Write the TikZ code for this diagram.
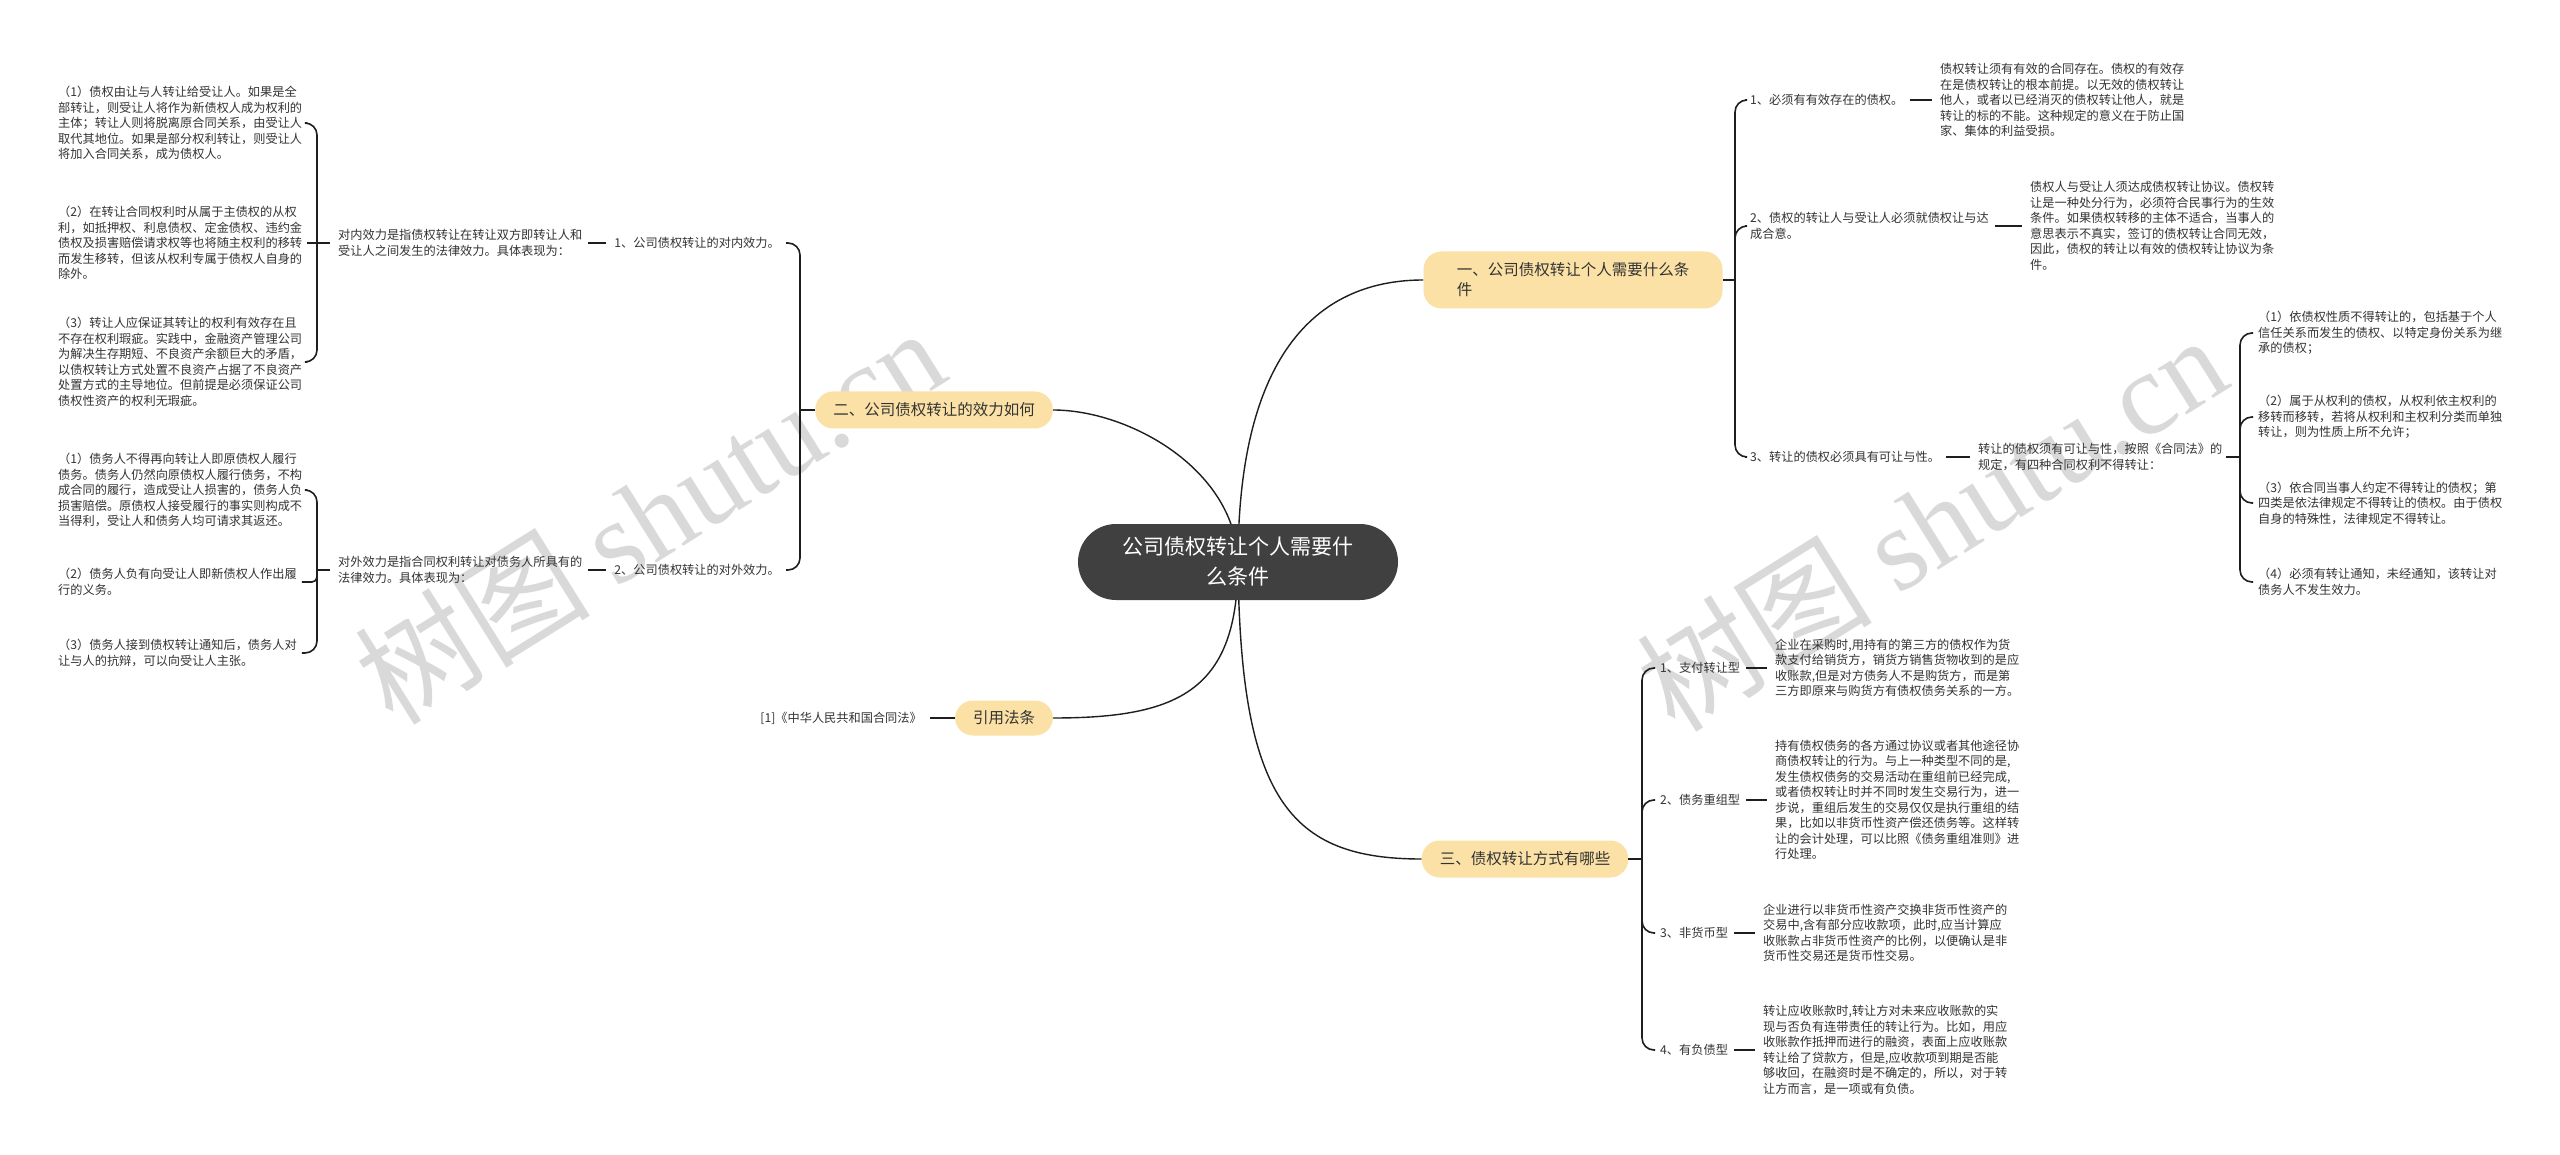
\documentclass[tikz,border=0pt]{standalone}
\usepackage{fontspec}
\setmainfont{Noto Sans CJK SC}
\newfontfamily\wmserif{Liberation Serif}
\definecolor{txtc}{HTML}{333333}
\definecolor{topicc}{HTML}{FBE1A6}
\definecolor{rootc}{HTML}{404040}
\definecolor{linec}{HTML}{1E1E1E}
\pgfdeclarelayer{lines}
\pgfsetlayers{lines,main}
\tikzset{
  txt/.style={font=\fontsize{12.2}{15.5}\selectfont, text=txtc, align=left, inner sep=0pt, anchor=west},
  txtr/.style={txt, anchor=east},
  topic/.style={fill=topicc, text=txtc, font=\fontsize{15.5}{20}\selectfont, rounded corners=18pt, inner xsep=18pt, inner ysep=0pt, minimum height=37pt, align=left},
  rootbox/.style={fill=rootc, text=white, font=\fontsize{21}{30}\selectfont, rounded corners=38pt, minimum width=320pt, minimum height=76pt, align=center, inner sep=0pt},
  link/.style={draw=linec, line width=1.6pt},
  curvelink/.style={draw=linec, line width=1.4pt},
  branch/.style={link, rounded corners=12pt},
  wmtext/.style={text=black!15, font=\fontsize{118}{118}\selectfont, rotate=32, inner sep=0pt}
}
\begin{document}
\begin{tikzpicture}[x=1pt,y=-1pt]
\useasboundingbox (0,0) rectangle (2560,1155);
\begin{pgfonlayer}{lines}
\fill[white] (0,0) rectangle (2560,1155);
\node[wmtext] (wmL) at (649,515) {树图 {\wmserif shutu.cn}};
\node[wmtext] (wmR) at (1931,522) {树图 {\wmserif shutu.cn}};
\end{pgfonlayer}

% root and main topics
\node[rootbox] (root) at (1238,562) {公司债权转让个人需要什\\么条件};
\node[topic, minimum width=299pt, minimum height=57pt] (n1) at (1573,280) {一、公司债权转让个人需要什么条\\件};
\node[topic] (n2) at (934,410) {二、公司债权转让的效力如何};
\node[topic] (n3) at (1525,859) {三、债权转让方式有哪些};
\node[topic, minimum height=35pt] (n4) at (1004,718) {引用法条};

% citation
\node[txtr] (cite) at (922,718) {[1]《中华人民共和国合同法》};

% ---------- branch 二 (left) ----------
\coordinate (J2) at (800,410);
\node[txtr] (l1) at (780,243) {1、公司债权转让的对内效力。};
\node[txtr] (l2) at (780,570) {2、公司债权转让的对外效力。};
\node[txt] (lin) at (338,243) {对内效力是指债权转让在转让双方即转让人和\\受让人之间发生的法律效力。具体表现为：};
\node[txt] (lout) at (338,570) {对外效力是指合同权利转让对债务人所具有的\\法律效力。具体表现为：};
\coordinate (Jin) at (317,243);
\coordinate (Jout) at (317,570);
\node[txt] (li1) at (58,123) {（1）债权由让与人转让给受让人。如果是全\\部转让，则受让人将作为新债权人成为权利的\\主体；转让人则将脱离原合同关系，由受让人\\取代其地位。如果是部分权利转让，则受让人\\将加入合同关系，成为债权人。};
\node[txt] (li2) at (58,243) {（2）在转让合同权利时从属于主债权的从权\\利，如抵押权、利息债权、定金债权、违约金\\债权及损害赔偿请求权等也将随主权利的移转\\而发生移转，但该从权利专属于债权人自身的\\除外。};
\node[txt] (li3) at (58,362) {（3）转让人应保证其转让的权利有效存在且\\不存在权利瑕疵。实践中，金融资产管理公司\\为解决生存期短、不良资产余额巨大的矛盾，\\以债权转让方式处置不良资产占据了不良资产\\处置方式的主导地位。但前提是必须保证公司\\债权性资产的权利无瑕疵。};
\node[txt] (lo1) at (58,490) {（1）债务人不得再向转让人即原债权人履行\\债务。债务人仍然向原债权人履行债务，不构\\成合同的履行，造成受让人损害的，债务人负\\损害赔偿。原债权人接受履行的事实则构成不\\当得利，受让人和债务人均可请求其返还。};
\node[txt] (lo2) at (58,582) {（2）债务人负有向受让人即新债权人作出履\\行的义务。};
\node[txt] (lo3) at (58,653) {（3）债务人接到债权转让通知后，债务人对\\让与人的抗辩，可以向受让人主张。};

% ---------- branch 一 (right top) ----------
\coordinate (J1) at (1735,280);
\node[txt] (r1) at (1750,100) {1、必须有有效存在的债权。};
\node[txt] (rd1) at (1940,100) {债权转让须有有效的合同存在。债权的有效存\\在是债权转让的根本前提。以无效的债权转让\\他人，或者以已经消灭的债权转让他人，就是\\转让的标的不能。这种规定的意义在于防止国\\家、集体的利益受损。};
\node[txt] (r2) at (1750,226) {2、债权的转让人与受让人必须就债权让与达\\成合意。};
\node[txt] (rd2) at (2030,226) {债权人与受让人须达成债权转让协议。债权转\\让是一种处分行为，必须符合民事行为的生效\\条件。如果债权转移的主体不适合，当事人的\\意思表示不真实，签订的债权转让合同无效，\\因此，债权的转让以有效的债权转让协议为条\\件。};
\node[txt] (r3) at (1750,457) {3、转让的债权必须具有可让与性。};
\node[txt] (rd3) at (1978,457) {转让的债权须有可让与性，按照《合同法》的\\规定，有四种合同权利不得转让：};
\coordinate (J3) at (2240,457);
\node[txt] (rs1) at (2258,333) {（1）依债权性质不得转让的，包括基于个人\\信任关系而发生的债权、以特定身份关系为继\\承的债权；};
\node[txt] (rs2) at (2258,417) {（2）属于从权利的债权，从权利依主权利的\\移转而移转，若将从权利和主权利分类而单独\\转让，则为性质上所不允许；};
\node[txt] (rs3) at (2258,503) {（3）依合同当事人约定不得转让的债权；第\\四类是依法律规定不得转让的债权。由于债权\\自身的特殊性，法律规定不得转让。};
\node[txt] (rs4) at (2258,582) {（4）必须有转让通知，未经通知，该转让对\\债务人不发生效力。};

% ---------- branch 三 (right bottom) ----------
\coordinate (J4) at (1642,859);
\node[txt] (b1) at (1660,668) {1、支付转让型};
\node[txt] (bd1) at (1775,668) {企业在采购时,用持有的第三方的债权作为货\\款支付给销货方，销货方销售货物收到的是应\\收账款,但是对方债务人不是购货方，而是第\\三方即原来与购货方有债权债务关系的一方。};
\node[txt] (b2) at (1660,800) {2、债务重组型};
\node[txt] (bd2) at (1775,800) {持有债权债务的各方通过协议或者其他途径协\\商债权转让的行为。与上一种类型不同的是,\\发生债权债务的交易活动在重组前已经完成,\\或者债权转让时并不同时发生交易行为，进一\\步说，重组后发生的交易仅仅是执行重组的结\\果，比如以非货币性资产偿还债务等。这样转\\让的会计处理，可以比照《债务重组准则》进\\行处理。};
\node[txt] (b3) at (1660,933) {3、非货币型};
\node[txt] (bd3) at (1763,933) {企业进行以非货币性资产交换非货币性资产的\\交易中,含有部分应收款项，此时,应当计算应\\收账款占非货币性资产的比例，以便确认是非\\货币性交易还是货币性交易。};
\node[txt] (b4) at (1660,1050) {4、有负债型};
\node[txt] (bd4) at (1763,1050) {转让应收账款时,转让方对未来应收账款的实\\现与否负有连带责任的转让行为。比如，用应\\收账款作抵押而进行的融资，表面上应收账款\\转让给了贷款方，但是,应收款项到期是否能\\够收回，在融资时是不确定的，所以，对于转\\让方而言，是一项或有负债。};

% ---------- connectors ----------
\begin{pgfonlayer}{lines}
\draw[curvelink] (root.center) .. controls (1238,348) and (1322,280) .. (n1.west);
\draw[curvelink] (root.center) .. controls (1236,470) and (1130,410) .. (n2.east);
\draw[curvelink] (root.center) .. controls (1238,690) and (1180,718) .. (n4.east);
\draw[curvelink] (root.center) .. controls (1240,800) and (1290,859) .. (n3.west);
\end{pgfonlayer}

\draw[link] ([xshift=8pt]cite.east) -- (n4.west);

% branch 二
\draw[link] (n2.west) -- (J2);
\draw[branch] (J2) |- ([xshift=6pt]l1.east);
\draw[branch] (J2) |- ([xshift=6pt]l2.east);
\draw[link] ([xshift=-8pt]l1.west) -- ([xshift=6pt]lin.east);
\draw[link] ([xshift=-8pt]l2.west) -- ([xshift=6pt]lout.east);
\draw[link] ([xshift=-8pt]lin.west) -- (Jin);
\draw[link] ([xshift=-8pt]lout.west) -- (Jout);
\draw[branch] (Jin) |- ([xshift=5pt]li1.east);
\draw[link] (Jin) -- ([xshift=5pt]li2.east);
\draw[branch] (Jin) |- ([xshift=5pt]li3.east);
\draw[branch] (Jout) |- ([xshift=5pt]lo1.east);
\draw[link, rounded corners=5pt] (Jout) |- ([xshift=5pt]lo2.east);
\draw[branch] (Jout) |- ([xshift=5pt]lo3.east);

% branch 一
\draw[link] (n1.east) -- (J1);
\draw[branch] (J1) |- ([xshift=-5pt]r1.west);
\draw[branch] (J1) |- ([xshift=-5pt]r2.west);
\draw[branch] (J1) |- ([xshift=-5pt]r3.west);
\draw[link] ([xshift=6pt]r1.east) -- ([xshift=-8pt]rd1.west);
\draw[link] ([xshift=6pt]r2.east) -- ([xshift=-8pt]rd2.west);
\draw[link] ([xshift=6pt]r3.east) -- ([xshift=-8pt]rd3.west);
\draw[link] ([xshift=4pt]rd3.east) -- (J3);
\draw[branch] (J3) |- ([xshift=-5pt]rs1.west);
\draw[branch] (J3) |- ([xshift=-5pt]rs2.west);
\draw[branch] (J3) |- ([xshift=-5pt]rs3.west);
\draw[branch] (J3) |- ([xshift=-5pt]rs4.west);

% branch 三
\draw[link] (n3.east) -- (J4);
\draw[branch] (J4) |- ([xshift=-5pt]b1.west);
\draw[branch] (J4) |- ([xshift=-5pt]b2.west);
\draw[branch] (J4) |- ([xshift=-5pt]b3.west);
\draw[branch] (J4) |- ([xshift=-5pt]b4.west);
\draw[link] ([xshift=6pt]b1.east) -- ([xshift=-8pt]bd1.west);
\draw[link] ([xshift=6pt]b2.east) -- ([xshift=-8pt]bd2.west);
\draw[link] ([xshift=6pt]b3.east) -- ([xshift=-8pt]bd3.west);
\draw[link] ([xshift=6pt]b4.east) -- ([xshift=-8pt]bd4.west);
\end{tikzpicture}
\end{document}
